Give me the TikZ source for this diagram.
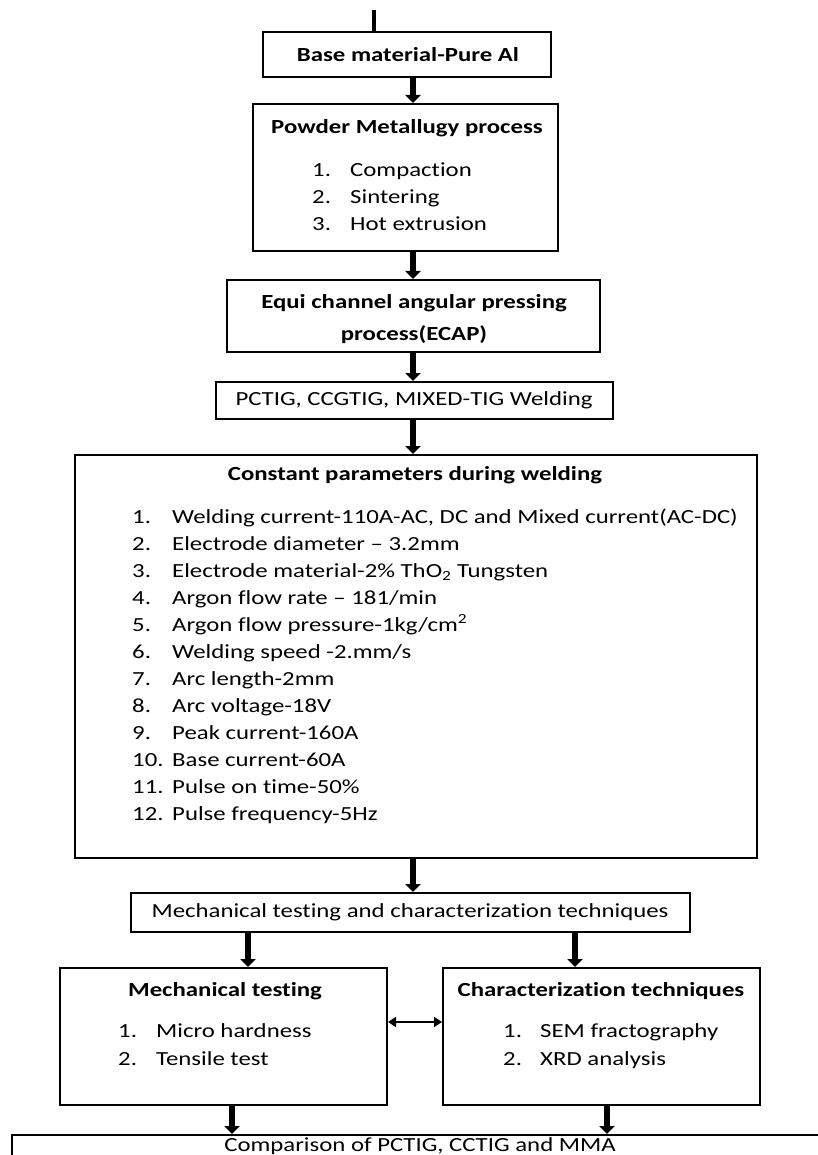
\documentclass[tikz,border=0pt]{standalone}
\usepackage{fontspec}
\setmainfont{Carlito}[FakeStretch=1.24, Ligatures={TeX,NoCommon}]
\usetikzlibrary{arrows.meta}
\begin{document}
\begin{tikzpicture}[x=1pt,y=-1pt,
  box/.style={draw, line width=2pt, inner sep=0pt},
  flow/.style={line width=6pt, -{Triangle[width=15pt,length=8pt]}},
  dbl/.style={line width=2pt, {Triangle[width=10pt,length=8pt]}-{Triangle[width=10pt,length=8pt]}},
  txt/.style={inner sep=0pt, font=\fontsize{20}{24}\selectfont},
  ttl/.style={inner sep=0pt, font=\fontsize{20}{24}\selectfont\bfseries},
  item/.style={txt, anchor=mid west}]
\useasboundingbox (0,0) rectangle (817,1155);

% boxes
\node[box, minimum width=288pt, minimum height=45pt] (b1) at (407,54.5) {};
\node[box, minimum width=305pt, minimum height=147pt] (b2) at (405.5,177.5) {};
\node[box, minimum width=373pt, minimum height=72pt] (b3) at (413.5,316) {};
\node[box, minimum width=397pt, minimum height=37pt] (b4) at (414.5,400.5) {};
\node[box, minimum width=682pt, minimum height=403pt] (b5) at (416,656.5) {};
\node[box, minimum width=559pt, minimum height=39pt] (b6) at (410.5,912.5) {};
\node[box, minimum width=327pt, minimum height=137pt] (b7) at (223.5,1036.5) {};
\node[box, minimum width=317pt, minimum height=137pt] (b8) at (601.5,1036.5) {};
\node[box, minimum width=818pt, minimum height=50pt] (b9) at (421,1160) {};

% texts
\node[ttl] (t1) at (408,55) {Base material-Pure Al};
\node[ttl] (t2) at (407,128) {Powder Metallugy process};
\node[item] (n21) at (312,174) {1.};
\node[item] (i21) at (350,174) {Compaction};
\node[item] (n22) at (312,201) {2.};
\node[item] (i22) at (350,201) {Sintering};
\node[item] (n23) at (312,228) {3.};
\node[item] (i23) at (350,228) {Hot extrusion};
\node[ttl] (t3a) at (414,303) {Equi channel angular pressing};
\node[ttl] (t3b) at (414,335) {process(ECAP)};
\node[txt] (t4) at (414,400) {PCTIG, CCGTIG, MIXED-TIG Welding};
\node[ttl] (t5) at (415,475) {Constant parameters during welding};
\foreach \n/\t [count=\i from 0] in {
  1./{Welding current-110A-AC, DC and Mixed current(AC-DC)},
  2./{Electrode diameter -- 3.2mm},
  3./{Electrode material-2\% ThO\textsubscript{2} Tungsten},
  4./{Argon flow rate -- 181/min},
  5./{Argon flow pressure-1kg/cm\textsuperscript{2}},
  6./{Welding speed -2.mm/s},
  7./{Arc length-2mm},
  8./{Arc voltage-18V},
  9./{Peak current-160A},
  10./{Base current-60A},
  11./{Pulse on time-50\%},
  12./{Pulse frequency-5Hz}}{
  \node[item] (n5\i) at (132,521+27*\i) {\n};
  \node[item] (i5\i) at (172,521+27*\i) {\t};
}
\node[txt] (t6) at (410,912) {Mechanical testing and characterization techniques};
\node[ttl] (t7) at (225,991) {Mechanical testing};
\node[item] (n71) at (118,1035) {1.};
\node[item] (i71) at (156,1035) {Micro hardness};
\node[item] (n72) at (118,1063) {2.};
\node[item] (i72) at (156,1063) {Tensile test};
\node[ttl] (t8) at (601,991) {Characterization techniques};
\node[item] (n81) at (503,1035) {1.};
\node[item] (i81) at (540,1035) {SEM fractography};
\node[item] (n82) at (503,1063) {2.};
\node[item] (i82) at (540,1063) {XRD analysis};
\node[txt] (t9) at (420,1146) {Comparison of PCTIG, CCTIG and MMA};

% connectors
\coordinate (top) at (374,10);
\draw[line width=4pt] (top) -- (b1.north -| top);
\draw[flow] (b1.south -| 413,0) -- (b2.north -| 413,0);
\draw[flow] (b2.south -| 413,0) -- (b3.north -| 413,0);
\draw[flow] (b3.south -| 413,0) -- (b4.north -| 413,0);
\draw[flow] (b4.south -| 413,0) -- (b5.north -| 413,0);
\draw[flow] (b5.south -| 413,0) -- (b6.north -| 413,0);
\draw[flow] (b6.south -| 248,0) -- (b7.north -| 248,0);
\draw[flow] (b6.south -| 575,0) -- (b8.north -| 575,0);
\draw[flow] (b7.south -| 232,0) -- (b9.north -| 232,0);
\draw[flow] (b8.south -| 607,0) -- (b9.north -| 607,0);
\draw[dbl] (b7.east |- 0,1022) -- (b8.west |- 0,1022);
\end{tikzpicture}
\end{document}
